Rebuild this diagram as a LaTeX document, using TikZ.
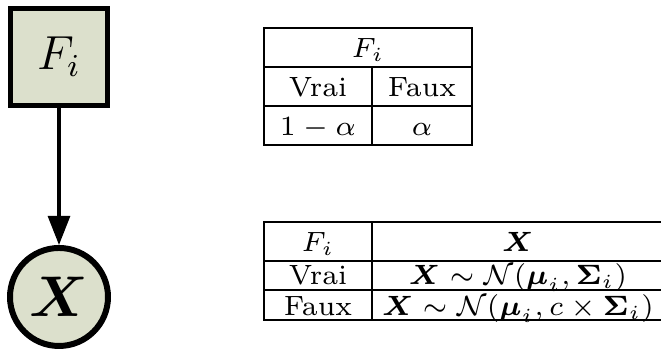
\documentclass[tikz,border=0pt]{standalone}
\usepackage{amsmath}
\usepackage{amssymb}
\usetikzlibrary{positioning,arrows.meta}
\definecolor{nodefill}{RGB}{220,224,204}
\tikzset{
  varsq/.style={draw=black, fill=nodefill, line width=1.18pt,
                minimum size=24.3pt, inner sep=0pt, font=\large},
  varcirc/.style={circle, draw=black, fill=nodefill, line width=1.5pt,
                  minimum size=24.6pt, inner sep=0pt, font=\Large},
  deparr/.style={-{Triangle[length=7.3pt,width=5.5pt]}, line width=0.83pt},
  tabline/.style={draw=black, line width=0.33pt},
  tabcell/.style={inner sep=0pt, font=\scriptsize, text height=4.8pt, text depth=0pt},
}
\newcommand{\TL}{264}
\newcommand{\TM}{372}
\newcommand{\TR}{472}
\newcommand{\TRR}{661}
\newcommand{\CA}{318}
\newcommand{\CB}{422}
\newcommand{\CC}{518}
\begin{document}
\begin{tikzpicture}[x=0.251pt,y=-0.251pt]
    \useasboundingbox (0,0) rectangle (661,350);

      % reseau
      \node[varsq] (fi) at (59,57) {$F_i$};
      \node[varcirc] (xv) at (59,297) {$\boldsymbol{X}$};
      \draw[deparr] (fi) -- (xv);

      % table de F_i
      \draw[tabline] (\TL,28) rectangle (\TR,145);
      \draw[tabline] (\TL,67) -- (\TR,67);
      \draw[tabline] (\TL,106) -- (\TR,106);
      \draw[tabline] (\TM,67) -- (\TM,145);
      \node[tabcell] (fhead) at ({(\TL+\TR)/2},47.5) {$F_i$};
      \node[tabcell] (fvrai) at (\CA,86.5) {Vrai};
      \node[tabcell] (ffaux) at (\CB,86.5) {Faux};
      \node[tabcell] (fpv) at (\CA,125.5) {$1-\alpha$};
      \node[tabcell] (fpf) at (\CB,125.5) {$\alpha$};

      % table de X
      \draw[tabline] (\TRR,222) -- (\TL,222) -- (\TL,320) -- (\TRR,320);
      \draw[tabline] (\TL,261) -- (\TRR,261);
      \draw[tabline] (\TL,290) -- (\TRR,290);
      \draw[tabline] (\TM,222) -- (\TM,320);
      \node[tabcell] (xhf) at (\CA,241.5) {$F_i$};
      \node[tabcell] (xhx) at (\CC,241.5) {$\boldsymbol{X}$};
      \node[tabcell] (xvrai) at (\CA,274.5) {Vrai};
      \node[tabcell] (xfaux) at (\CA,306) {Faux};
      \node[tabcell] (xlv) at (\CC,274.5) {$\boldsymbol{X} \sim \mathcal{N}(\boldsymbol{\mu}_i, \boldsymbol{\Sigma}_i)$};
      \node[tabcell] (xlf) at (\CC,306) {$\boldsymbol{X} \sim \mathcal{N}(\boldsymbol{\mu}_i, c \times \boldsymbol{\Sigma}_i)$};

    \end{tikzpicture}
\end{document}
